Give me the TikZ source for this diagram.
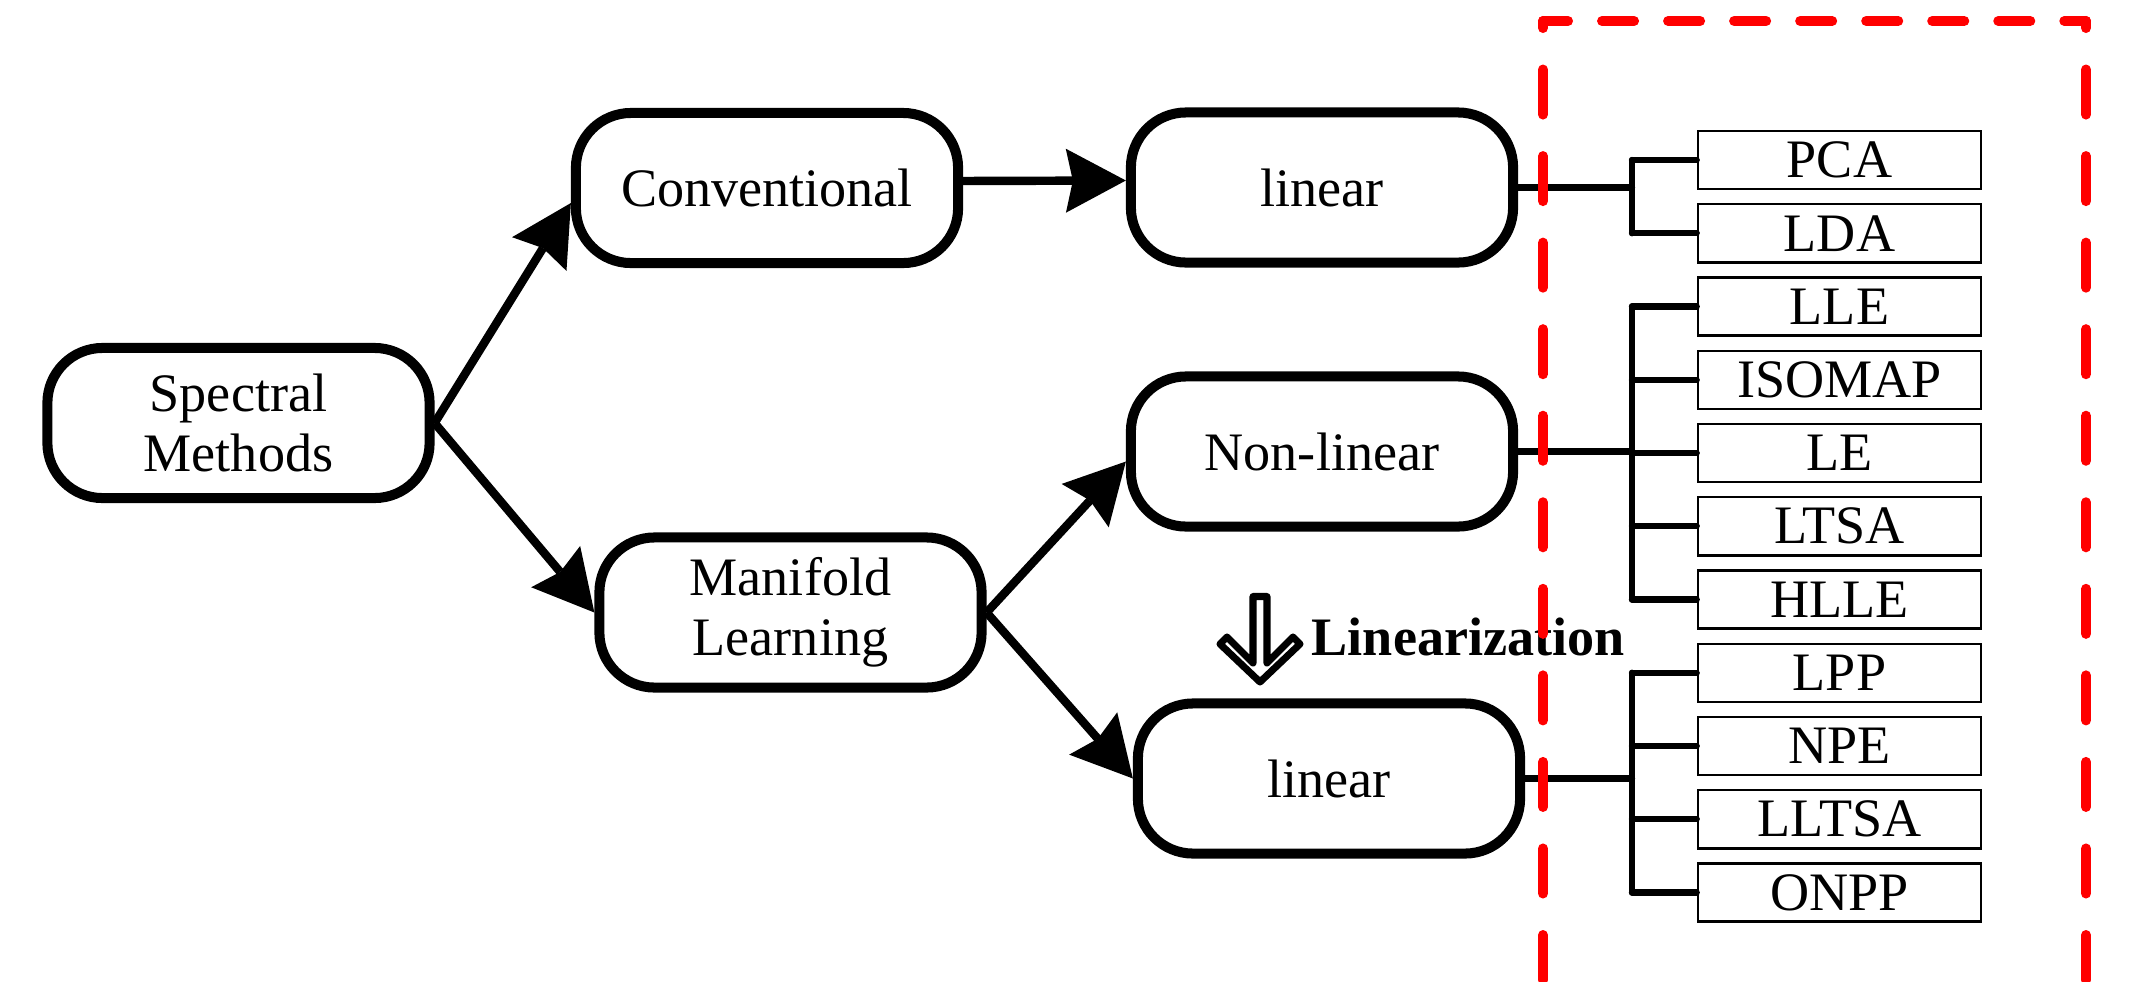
\documentclass[tikz,border=0pt]{standalone}
\usepackage{fontspec}
\setmainfont{Liberation Serif}
\usetikzlibrary{arrows.meta}
\tikzset{
	node_main/.style = {
		align=center,
		inner sep=0pt,
		rectangle,
		rounded corners=0.55cm,
		draw=black,
		line width=2.85pt,
		minimum width=3.82cm,
		minimum height=1.50cm,
		font=\fontsize{15.4}{17.1}\selectfont
	},
	node_method/.style = {
		inner sep=0pt,
		rectangle,
		draw=black,
		line width=0.7pt,
		minimum width=2.83cm,
		minimum height=0.58cm,
		font=\fontsize{15.4}{17.1}\selectfont
	},
	node_label/.style = {
		inner sep=0pt,
		font=\fontsize{15.4}{17.1}\selectfont\bfseries
	},
	line_arrow/.style = {
		-{Stealth[length=0.6cm,width=0.64cm,inset=0.07cm,line width=0pt]},
		line width=2.4pt
	},
	line_tree/.style = {
		line width=1.8pt,
		line cap=round
	},
	line_hollow/.style = {
		line width=2pt,
		line join=round
	},
	line_red/.style = {
		red,
		line width=2.85pt,
		line cap=round
	},
}

\begin{document}
\begin{tikzpicture}[x=0.01cm, y=-0.01cm]
\useasboundingbox (0,0) rectangle (2132,981);

% main boxes
\node [node_main] (spectral) at (238.5,423) {Spectral\\Methods};
\node [node_main] (conv) at (767,188) {Conventional};
\node [node_main] (manifold) at (790.5,612.5) {Manifold\\Learning};
\node [node_main] (lin_top) at (1322,187.5) {linear};
\node [node_main] (nonlin) at (1322,451.5) {Non-linear};
\node [node_main] (lin_bot) at (1329,778.5) {linear};

% arrows
\draw [line_arrow] (spectral.east) -- ([yshift=-0.15cm]conv.west);
\draw [line_arrow] (spectral.east) -- (manifold.west);
\draw [line_arrow] ([yshift=0.07cm]conv.east) -- ([yshift=0.07cm]lin_top.west);
\draw [line_arrow] (manifold.east) -- ([yshift=-0.1cm]nonlin.west);
\draw [line_arrow] (manifold.east) -- (lin_bot.west);

% linearization
\draw [line_hollow] (1253,596.5) -- (1253,663) -- (1227,637) -- (1220,644) -- (1260,682)
	-- (1300,644) -- (1293,637) -- (1267,663) -- (1267,596.5) -- cycle;
\node [node_label, anchor=base west] (linearization) at (1311,655) {Linearization};

% methods
\foreach \name [count=\i] in {PCA,LDA,LLE,ISOMAP,LE,LTSA,HLLE,LPP,NPE,LLTSA,ONPP}
	\node [node_method] (m\i) at (1839.5,{160+73.25*(\i-1)}) {\name};

\coordinate (tree_x) at (1632,0);
\draw [line_tree] (lin_top.east) -- (lin_top.east -| tree_x);
\draw [line_tree] (nonlin.east) -- (nonlin.east -| tree_x);
\draw [line_tree] (lin_bot.east) -- (lin_bot.east -| tree_x);
\draw [line_tree] (m1.west -| tree_x) -- (m2.west -| tree_x);
\draw [line_tree] (m3.west -| tree_x) -- (m7.west -| tree_x);
\draw [line_tree] (m8.west -| tree_x) -- (m11.west -| tree_x);
\foreach \i in {1,...,11}
	\draw [line_tree] (m\i.west -| tree_x) -- (m\i.west);

% red frame
\draw [line_red, dash pattern=on 0.32cm off 0.34cm, dash phase=0.07cm] (1543,21) -- (2086,21);
\draw [line_red, dash pattern=on 0.45cm off 0.415cm, dash phase=0.38cm] (1543,21) -- (1543,1000);
\draw [line_red, dash pattern=on 0.45cm off 0.415cm, dash phase=0.38cm] (2086,21) -- (2086,1000);
\end{tikzpicture}
\end{document}
